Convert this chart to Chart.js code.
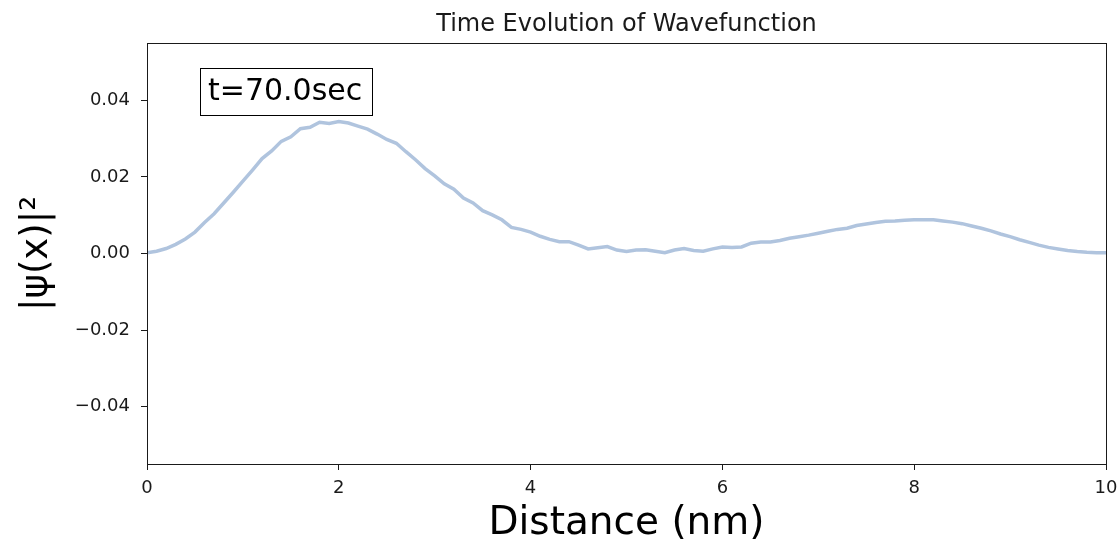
<!DOCTYPE html>
<html>
<head>
<meta charset="utf-8">
<script src="https://cdn.jsdelivr.net/npm/chart.js@4/dist/chart.umd.min.js"></script>
<style>
  html, body { margin: 0; padding: 0; background: #fff; }
  #wrap { width: 1120px; height: 544px; position: relative; }
</style>
</head>
<body>
<div id="wrap"><canvas id="canvas"></canvas></div>
<script>
// probability density |psi|^2 sampled every 0.1 nm at t = 70 s
const distance = [
  0.0, 0.1, 0.2, 0.3, 0.4, 0.5, 0.6, 0.7, 0.8, 0.9,
  1.0, 1.1, 1.2, 1.3, 1.4, 1.5, 1.6, 1.7, 1.8, 1.9,
  2.0, 2.1, 2.2, 2.3, 2.4, 2.5, 2.6, 2.7, 2.8, 2.9,
  3.0, 3.1, 3.2, 3.3, 3.4, 3.5, 3.6, 3.7, 3.8, 3.9,
  4.0, 4.1, 4.2, 4.3, 4.4, 4.5, 4.6, 4.7, 4.8, 4.9,
  5.0, 5.1, 5.2, 5.3, 5.4, 5.5, 5.6, 5.7, 5.8, 5.9,
  6.0, 6.1, 6.2, 6.3, 6.4, 6.5, 6.6, 6.7, 6.8, 6.9,
  7.0, 7.1, 7.2, 7.3, 7.4, 7.5, 7.6, 7.7, 7.8, 7.9,
  8.0, 8.1, 8.2, 8.3, 8.4, 8.5, 8.6, 8.7, 8.8, 8.9,
  9.0, 9.1, 9.2, 9.3, 9.4, 9.5, 9.6, 9.7, 9.8, 9.9,
  10.0
]
const density = [
  0.0002, 0.0006, 0.0013, 0.0024, 0.0038, 0.0056, 0.0081, 0.0104, 0.0132, 0.0160,
  0.0189, 0.0218, 0.0248, 0.0268, 0.0293, 0.0305, 0.0326, 0.0330, 0.0343, 0.0340,
  0.0345, 0.0341, 0.0333, 0.0325, 0.0312, 0.0298, 0.0288, 0.0266, 0.0245, 0.0222,
  0.0203, 0.0182, 0.0168, 0.0145, 0.0132, 0.0112, 0.0101, 0.0088, 0.0068, 0.0063,
  0.0056, 0.0045, 0.0037, 0.0031, 0.0031, 0.0022, 0.0012, 0.0015, 0.0018, 0.0009,
  0.0005, 0.0009, 0.0010, 0.0006, 0.0002, 0.0009, 0.0013, 0.0008, 0.0006, 0.0012,
  0.0017, 0.0016, 0.0017, 0.0027, 0.0030, 0.0030, 0.0034, 0.0040, 0.0044, 0.0048,
  0.0053, 0.0058, 0.0063, 0.0066, 0.0073, 0.0077, 0.0081, 0.0084, 0.0085, 0.0087,
  0.0088, 0.0088, 0.0088, 0.0085, 0.0082, 0.0078, 0.0072, 0.0066, 0.0059, 0.0051,
  0.0044, 0.0036, 0.0029, 0.0022, 0.0016, 0.0012, 0.0008, 0.0005, 0.0003, 0.0002,
  0.0002
]
const xTicks = [0, 2, 4, 6, 8, 10]
const yTicks = [-0.04, -0.02, 0.00, 0.02, 0.04]
const chartTitle = 'Time Evolution of Wavefunction'
const timeLabel = 't=70.0sec'

const FONT = "'DejaVu Sans', sans-serif"
const INK = '#1a1a1a'

// title centred over the axes, full box around them and the time stamp
const framePlugin = {
  id: 'frame',
  afterDraw(chart) {
    const { ctx, chartArea: a } = chart
    ctx.save()
    ctx.fillStyle = INK
    ctx.font = '24px ' + FONT
    ctx.textAlign = 'center'
    ctx.textBaseline = 'alphabetic'
    ctx.fillText(chartTitle, (a.left + a.right) / 2, a.top - 12)

    ctx.strokeStyle = INK
    ctx.lineWidth = 1
    ctx.strokeRect(a.left + 0.5, a.top + 0.5, a.right - a.left, a.bottom - a.top)

    ctx.font = '30px ' + FONT
    ctx.textAlign = 'left'
    const w = ctx.measureText(timeLabel).width
    const bx = Math.round(a.left + 0.055 * (a.right - a.left))
    const by = Math.round(a.top + 0.06 * (a.bottom - a.top))
    const pad = 9
    const bw = Math.round(w + 2 * pad)
    const bh = 47
    ctx.fillStyle = '#fff'
    ctx.fillRect(bx, by, bw, bh)
    ctx.strokeStyle = '#000'
    ctx.strokeRect(bx + 0.5, by + 0.5, bw, bh)
    ctx.fillStyle = '#000'
    ctx.textBaseline = 'middle'
    ctx.fillText(timeLabel, bx + pad - 1, by + bh / 2 + 1)
    ctx.restore()
  }
}

const points = distance.map((d, i) => ({ x: d, y: density[i] }))

const config = {
  type: 'line',
  data: {
    datasets: [{
      data: points,
      borderColor: '#b0c4de',
      borderWidth: 3.5,
      pointRadius: 0,
      tension: 0,
      fill: false
    }]
  },
  options: {
    responsive: true,
    maintainAspectRatio: false,
    animation: false,
    layout: { padding: { left: 0, right: 14, top: 43, bottom: 0 } },
    plugins: {
      legend: { display: false },
      tooltip: { enabled: false },
      title: { display: false }
    },
    scales: {
      x: {
        type: 'linear',
        min: 0,
        max: 10,
        afterFit(scale) {
          scale.height = 80
          scale.paddingLeft = 0
          scale.paddingRight = 0
        },
        afterBuildTicks(scale) { scale.ticks = xTicks.map(v => ({ value: v })) },
        grid: { display: true, drawOnChartArea: false, tickLength: 6, tickColor: INK },
        border: { display: true, color: INK },
        ticks: {
          color: INK,
          padding: 8,
          font: { family: FONT, size: 18 },
          maxRotation: 0,
          callback: v => String(v)
        },
        title: {
          display: true,
          text: 'Distance (nm)',
          color: '#000',
          font: { family: FONT, size: 39, lineHeight: 1 },
          padding: { top: 0, bottom: 1 }
        }
      },
      y: {
        min: -0.055,
        max: 0.055,
        afterFit(scale) {
          scale.width = 147
          scale.paddingTop = 0
          scale.paddingBottom = 0
        },
        afterBuildTicks(scale) { scale.ticks = yTicks.map(v => ({ value: v })) },
        grid: { display: true, drawOnChartArea: false, tickLength: 6, tickColor: INK },
        border: { display: true, color: INK },
        ticks: {
          color: INK,
          padding: 11,
          font: { family: FONT, size: 18 },
          callback: v => (v < 0 ? '\u2212' : '') + Math.abs(v).toFixed(2)
        },
        title: {
          display: true,
          text: '|\u03c8(x)|\u00b2',
          color: '#000',
          font: { family: FONT, size: 37, lineHeight: 1 },
          padding: { top: 19, bottom: 0 }
        }
      }
    }
  },
  plugins: [framePlugin]
}

const canvas = document.getElementById('canvas')
const chart = new Chart(canvas, config)
</script>
</body>
</html>
